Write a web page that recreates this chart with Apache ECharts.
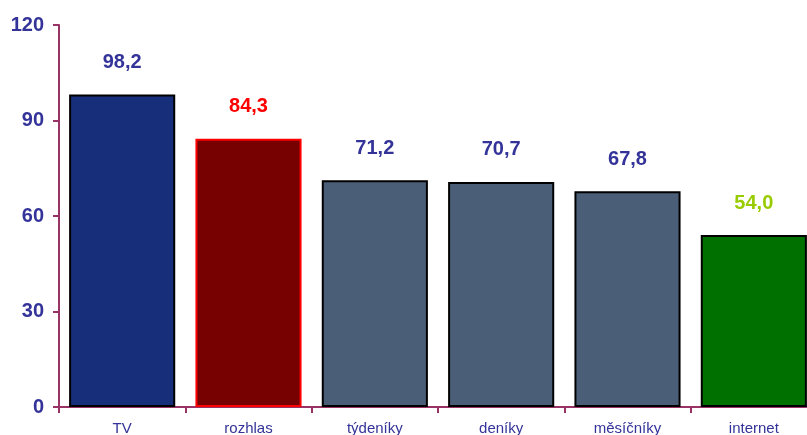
<!DOCTYPE html>
<html><head><meta charset="utf-8">
<script src="https://cdn.jsdelivr.net/npm/echarts@6/dist/echarts.min.js"></script>
<style>html,body{margin:0;padding:0;background:#fff}#c{width:807px;height:435px}</style>
</head><body><div id="c"></div>
<script>
const categories = ['TV','rozhlas','týdeníky','deníky','měsíčníky','internet'];
const values = [98.2, 84.3, 71.2, 70.7, 67.8, 54.0];
const barColors = ['#172F7A','#770000','#4A5F77','#4A5F77','#4A5F77','#007000'];
const borderColors = ['#000000','#FF0000','#000000','#000000','#000000','#000000'];
const labelColors = ['#333399','#FF0000','#333399','#333399','#333399','#99CC00'];
const yTicks = [0,30,60,90,120];

const chart = echarts.init(document.getElementById('c'), null, {renderer:'canvas'});
chart.setOption({
  animation:false,
  grid:{left:59, width:758, top:25, bottom:28, containLabel:false, outerBoundsMode:'none'},
  xAxis:{
    type:'category', data:categories,
    axisLine:{lineStyle:{color:'#993366', width:2}},
    axisTick:{show:true, length:6, lineStyle:{color:'#993366', width:2}, alignWithLabel:false},
    axisLabel:{color:'#333399', fontFamily:'Liberation Sans, Arial', fontSize:15, margin:14}
  },
  yAxis:{
    type:'value', min:yTicks[0], max:yTicks[yTicks.length-1], interval:30,
    axisLine:{show:true, lineStyle:{color:'#993366', width:2}},
    axisTick:{show:true, length:6, lineStyle:{color:'#993366', width:2}},
    splitLine:{show:false},
    axisLabel:{color:'#333399', fontFamily:'Liberation Sans, Arial', fontSize:20, fontWeight:'bold', margin:15}
  },
  series:[{
    type:'bar', barCategoryGap:'16%',
    data: values.map((v,i)=>({value:v,
      itemStyle:{color:barColors[i], borderColor:borderColors[i], borderWidth:2},
      label:{color:labelColors[i]}})),
    label:{show:true, position:'top', distance:22,
      fontFamily:'Liberation Sans, Arial', fontSize:20, fontWeight:'bold',
      formatter:p=>p.value.toFixed(1).replace('.',',')}
  }]
});
</script></body></html>
